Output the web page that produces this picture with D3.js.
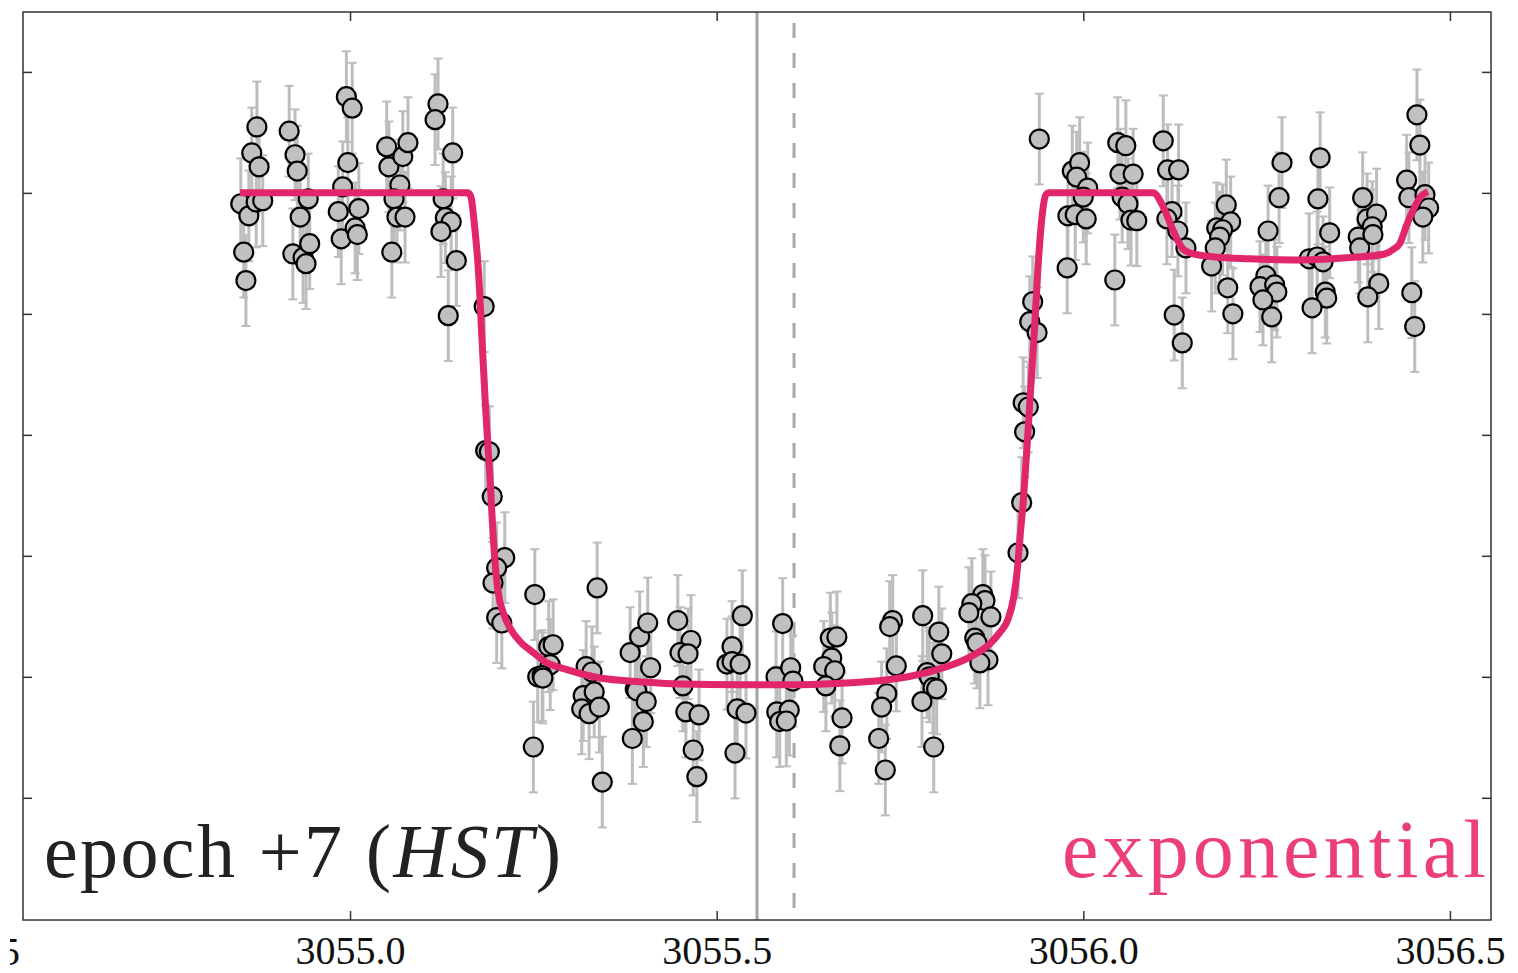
<!DOCTYPE html>
<html>
<head>
<meta charset="utf-8">
<script src="https://cdn.jsdelivr.net/npm/d3@7"></script>
<style>
  html, body { margin: 0; padding: 0; background: #ffffff; }
  svg { display: block; }
  text { font-family: "Liberation Serif", "Times New Roman", serif; }
</style>
</head>
<body>
<svg id="chart" width="1518" height="973"></svg>
<script>
// Observation times (BJD - 2450000 style offset) for the HST visit, grouped by orbit
const obsTime = [
  3054.851, 3054.862, 3054.866, 3054.873, 3054.876, 3054.872, 3054.881, 3054.855, 3054.858,
  3054.917, 3054.925, 3054.928, 3054.943, 3054.932, 3054.922, 3054.936, 3054.940, 3054.945,
  3054.995, 3055.003, 3054.997, 3054.990, 3054.984, 3054.988, 3055.007, 3055.010, 3055.012,
  3055.050, 3055.053, 3055.072, 3055.079, 3055.068, 3055.060, 3055.064, 3055.075, 3055.057,
  3055.120, 3055.116, 3055.140, 3055.127, 3055.130, 3055.138, 3055.124, 3055.145, 3055.134, 3055.183,
  3055.185, 3055.190, 3055.194, 3055.211, 3055.200, 3055.195, 3055.200, 3055.207,
  3055.252, 3055.271, 3055.277, 3055.273, 3055.256, 3055.262, 3055.263, 3055.250,
  3055.337, 3055.322, 3055.330, 3055.318, 3055.333, 3055.316, 3055.326, 3055.340, 3055.344,
  3055.382, 3055.395, 3055.406, 3055.410, 3055.389, 3055.391, 3055.404, 3055.400, 3055.385,
  3055.447, 3055.465, 3055.450, 3055.461, 3055.454, 3055.458, 3055.476, 3055.468, 3055.473,
  3055.535, 3055.521, 3055.514, 3055.521, 3055.532, 3055.528, 3055.540, 3055.525,
  3055.590, 3055.581, 3055.601, 3055.604, 3055.582, 3055.599, 3055.586, 3055.595,
  3055.655, 3055.664, 3055.657, 3055.646, 3055.661, 3055.649, 3055.671, 3055.668,
  3055.740, 3055.736, 3055.745, 3055.732, 3055.725, 3055.721, 3055.730,
  3055.781, 3055.803, 3055.807, 3055.787, 3055.790, 3055.795, 3055.800, 3055.780, 3055.796,
  3055.863, 3055.866, 3055.848, 3055.844, 3055.874, 3055.852, 3055.855, 3055.870, 3055.859,
  3055.911, 3055.916, 3055.920, 3055.918, 3055.925, 3055.927, 3055.931, 3055.937, 3055.940,
  3055.985, 3055.995, 3055.991, 3056.006, 3056.000, 3055.979, 3055.989, 3056.004, 3055.978,
  3056.047, 3056.058, 3056.050, 3056.068, 3056.053, 3056.061, 3056.065, 3056.073, 3056.043,
  3056.109, 3056.115, 3056.130, 3056.121, 3056.114, 3056.129, 3056.140, 3056.124, 3056.135,
  3056.195, 3056.201, 3056.182, 3056.190, 3056.186, 3056.180, 3056.175, 3056.197, 3056.204,
  3056.271, 3056.267, 3056.252, 3056.249, 3056.241, 3056.261, 3056.264, 3056.245, 3056.257,
  3056.323, 3056.320, 3056.336, 3056.308, 3056.319, 3056.327, 3056.330, 3056.332, 3056.312,
  3056.381, 3056.387, 3056.400, 3056.394, 3056.375, 3056.377, 3056.395, 3056.403, 3056.388,
  3056.441, 3056.444, 3056.455, 3056.459, 3056.466, 3056.471, 3056.463, 3056.448, 3056.452
];

// Relative flux deviation (ppt) for each observation
const obsFlux = [
  -0.18, -0.38, 0.66, 1.09, 0.43, -0.15, -0.13, -0.98, -1.45,
  1.02, 0.63, 0.36, -0.10, -0.40, -1.01, -1.07, -1.17, -0.84,
  1.59, 1.40, 0.50, 0.10, -0.31, -0.76, -0.58, -0.69, -0.26,
  0.76, 0.43, 0.60, 0.83, 0.13, -0.10, -0.40, -0.40, -0.98,
  1.47, 1.21, 0.66, -0.10, -0.41, -0.48, -0.64, -1.12, -2.03, -1.88,
  -4.26, -4.28, -5.02, -6.03, -6.20, -6.45, -7.02, -7.11,
  -6.64, -7.50, -7.47, -7.80, -8.00, -7.98, -8.02, -9.16,
  -6.53, -7.83, -7.92, -8.31, -8.25, -8.53, -8.61, -8.50, -9.74,
  -7.60, -7.34, -7.11, -7.85, -8.20, -8.23, -8.41, -8.74, -9.02,
  -7.07, -7.40, -7.60, -7.62, -8.15, -8.58, -8.63, -9.21, -9.65,
  -6.99, -7.50, -7.79, -7.75, -7.79, -8.53, -8.60, -9.26,
  -7.12, -8.00, -7.85, -8.07, -8.58, -8.55, -8.74, -8.73,
  -7.36, -7.34, -7.69, -7.83, -7.90, -8.15, -8.68, -9.14,
  -7.07, -7.17, -7.82, -8.28, -8.50, -9.02, -9.54,
  -6.99, -7.26, -7.62, -7.93, -8.00, -8.18, -8.20, -8.41, -9.16,
  -6.64, -6.74, -6.79, -6.94, -7.01, -7.36, -7.44, -7.72, -7.77,
  -5.95, -5.12, -3.95, -3.47, -3.54, -2.13, -1.80, -2.31, 0.89,
  0.36, 0.50, 0.26, 0.08, -0.07, -0.38, -0.36, -0.43, -1.24,
  0.83, 0.78, 0.31, 0.31, -0.07, -0.18, -0.45, -0.46, -1.44,
  0.86, 0.38, 0.38, -0.31, -0.43, -0.63, -0.91, -2.02, -2.48,
  -0.20, -0.48, -0.58, -0.61, -0.73, -0.91, -1.21, -1.57, -2.00,
  0.50, -0.08, -0.63, -1.37, -1.55, -1.52, -1.64, -1.77, -2.05,
  0.58, -0.10, -0.66, -1.09, -1.06, -1.14, -1.64, -1.74, -1.90,
  -0.08, -0.43, -0.35, -0.56, -0.73, -0.91, -0.69, -1.50, -1.72,
  0.21, -0.08, 1.29, 0.79, -0.03, -0.25, -0.40, -1.65, -2.21
];

// Per-point photometric uncertainty (ppt)
const obsErr = 0.75;

// Best-fit light curve with exponential systematics ramp
const modelTime = [
  3054.850, 3055.161, 3055.165, 3055.169, 3055.175, 3055.180, 3055.185, 3055.191, 3055.196, 3055.202,
  3055.209, 3055.218, 3055.232, 3055.250, 3055.266, 3055.296, 3055.341, 3055.395, 3055.450, 3055.532,
  3055.614, 3055.682, 3055.750, 3055.795, 3055.841, 3055.873, 3055.886, 3055.897, 3055.905, 3055.910,
  3055.914, 3055.918, 3055.923, 3055.927, 3055.933, 3055.938, 3055.944, 3055.949, 3055.953, 3056.095,
  3056.109, 3056.122, 3056.136, 3056.150, 3056.180, 3056.227, 3056.295, 3056.364, 3056.411, 3056.422,
  3056.432, 3056.441, 3056.450, 3056.459, 3056.470
];
const modelFlux = [
  0, 0, -0.07, -0.45, -1.27, -2.43, -3.59, -4.74, -5.82, -6.60,
  -6.94, -7.19, -7.42, -7.60, -7.75, -7.88, -8.02, -8.08, -8.12, -8.13,
  -8.13, -8.10, -8.02, -7.90, -7.70, -7.45, -7.27, -7.06, -6.69, -6.23,
  -5.65, -5.12, -4.25, -3.47, -2.35, -1.27, -0.36, -0.03, 0, 0,
  -0.23, -0.61, -0.93, -1.01, -1.06, -1.09, -1.11, -1.07, -1.01, -0.94,
  -0.83, -0.53, -0.28, -0.08, 0.02
];

// Reference epochs marked with vertical lines
const solidMarkTime = 3055.555;
const dashedMarkTime = 3055.6055;

// Axis ticks
const xTickValues = [3055.0, 3055.5, 3056.0, 3056.5];
const yTickValues = [-10, -8, -6, -4, -2, 0, 2];

// Panel annotations
const panelLabel = "epoch +7 (";
const panelLabelItalic = "HST";
const modelLabel = "exponential";
const neighbourTickLabel = "3056.5";

const serif = "'Liberation Serif', 'Times New Roman', serif";
const svg = d3.select("#chart");
const plot = { left: 23, top: 12, right: 1491, bottom: 920 };

const x = d3.scaleLinear().domain([3054.554, 3056.556]).range([plot.left, plot.right]);
const y = d3.scaleLinear().domain([-12.02, 2.99]).range([plot.bottom, plot.top]);

const lineColor = "#e1266b";
const frameColor = "#333333";

// Vertical reference lines (behind the data)
svg.append("line")
  .attr("x1", x(solidMarkTime)).attr("x2", x(solidMarkTime))
  .attr("y1", plot.top).attr("y2", plot.bottom)
  .attr("stroke", "#a3a3a3").attr("stroke-width", 3);
svg.append("line")
  .attr("x1", x(dashedMarkTime)).attr("x2", x(dashedMarkTime))
  .attr("y1", plot.top).attr("y2", plot.bottom)
  .attr("stroke", "#a8a8a8").attr("stroke-width", 3)
  .attr("stroke-dasharray", "15,15").attr("stroke-dashoffset", 19);

const points = obsTime.map((t, i) => ({ t, f: obsFlux[i], e: obsErr }));

// Error bars with caps
const errG = svg.append("g").attr("stroke", "#bdbdbd");
errG.selectAll("line.bar").data(points).join("line")
  .attr("class", "bar")
  .attr("x1", d => x(d.t)).attr("x2", d => x(d.t))
  .attr("y1", d => y(d.f + d.e)).attr("y2", d => y(d.f - d.e))
  .attr("stroke-width", 3);
errG.selectAll("line.capTop").data(points).join("line")
  .attr("class", "capTop")
  .attr("x1", d => x(d.t) - 4.5).attr("x2", d => x(d.t) + 4.5)
  .attr("y1", d => y(d.f + d.e)).attr("y2", d => y(d.f + d.e))
  .attr("stroke-width", 2);
errG.selectAll("line.capBottom").data(points).join("line")
  .attr("class", "capBottom")
  .attr("x1", d => x(d.t) - 4.5).attr("x2", d => x(d.t) + 4.5)
  .attr("y1", d => y(d.f - d.e)).attr("y2", d => y(d.f - d.e))
  .attr("stroke-width", 2);

// Data markers
svg.append("g").selectAll("circle").data(points).join("circle")
  .attr("cx", d => x(d.t)).attr("cy", d => y(d.f))
  .attr("r", 9.5)
  .attr("fill", "#c0c0c0")
  .attr("stroke", "#000000")
  .attr("stroke-width", 2.2);

// Model curve
const modelPts = modelTime.map((t, i) => [t, modelFlux[i]]);
svg.append("path")
  .datum(modelPts)
  .attr("d", d3.line().x(d => x(d[0])).y(d => y(d[1])).curve(d3.curveMonotoneX))
  .attr("fill", "none")
  .attr("stroke", lineColor)
  .attr("stroke-width", 7)
  .attr("stroke-linejoin", "round");

// Axes: ticks pointing inward on all four sides, labels on the bottom only
const tickLen = 9;
const bottomAxis = d3.axisBottom(x).tickValues(xTickValues).tickSize(-tickLen).tickPadding(16)
  .tickFormat(d3.format(".1f"));
const topAxis = d3.axisTop(x).tickValues(xTickValues).tickSize(-tickLen).tickFormat("");
const leftAxis = d3.axisLeft(y).tickValues(yTickValues).tickSize(-tickLen).tickFormat("");
const rightAxis = d3.axisRight(y).tickValues(yTickValues).tickSize(-tickLen).tickFormat("");

function styleAxis(g) {
  g.attr("font-family", serif).attr("font-size", 40);
  g.select(".domain").remove();
  g.selectAll(".tick line").attr("stroke", frameColor).attr("stroke-width", 1.5);
  g.selectAll(".tick text")
    .attr("fill", "#111111")
    .style("font-family", serif)
    .style("font-size", "40px");
}
svg.append("g").attr("transform", `translate(0,${plot.bottom})`).call(bottomAxis).call(styleAxis);
svg.append("g").attr("transform", `translate(0,${plot.top})`).call(topAxis).call(styleAxis);
svg.append("g").attr("transform", `translate(${plot.left},0)`).call(leftAxis).call(styleAxis);
svg.append("g").attr("transform", `translate(${plot.right},0)`).call(rightAxis).call(styleAxis);

// Tick label belonging to the panel on the left, partly hidden at the figure edge
svg.append("clipPath").attr("id", "edgeClip")
  .append("rect").attr("x", 10).attr("y", 920).attr("width", 13).attr("height", 53);
svg.append("text")
  .attr("x", 20).attr("y", 965)
  .attr("text-anchor", "end")
  .attr("fill", "#111111")
  .attr("clip-path", "url(#edgeClip)")
  .style("font-family", serif)
  .style("font-size", "40px")
  .text(neighbourTickLabel);

// Frame
svg.append("rect")
  .attr("x", plot.left).attr("y", plot.top)
  .attr("width", plot.right - plot.left).attr("height", plot.bottom - plot.top)
  .attr("fill", "none").attr("stroke", frameColor).attr("stroke-width", 1.5);

// Panel annotations
const lbl = svg.append("text")
  .attr("x", 44).attr("y", 877)
  .attr("fill", "#222222")
  .style("font-family", serif)
  .style("font-size", "76px")
  .attr("textLength", 517).attr("lengthAdjust", "spacing");
lbl.append("tspan").text(panelLabel);
lbl.append("tspan").style("font-style", "italic").text(panelLabelItalic);
lbl.append("tspan").text(")");

svg.append("text")
  .attr("x", 1486).attr("y", 877)
  .attr("text-anchor", "end")
  .attr("fill", "#ec3f78")
  .style("font-family", serif)
  .style("font-size", "82px")
  .attr("textLength", 424).attr("lengthAdjust", "spacing")
  .text(modelLabel);
</script>
</body>
</html>
